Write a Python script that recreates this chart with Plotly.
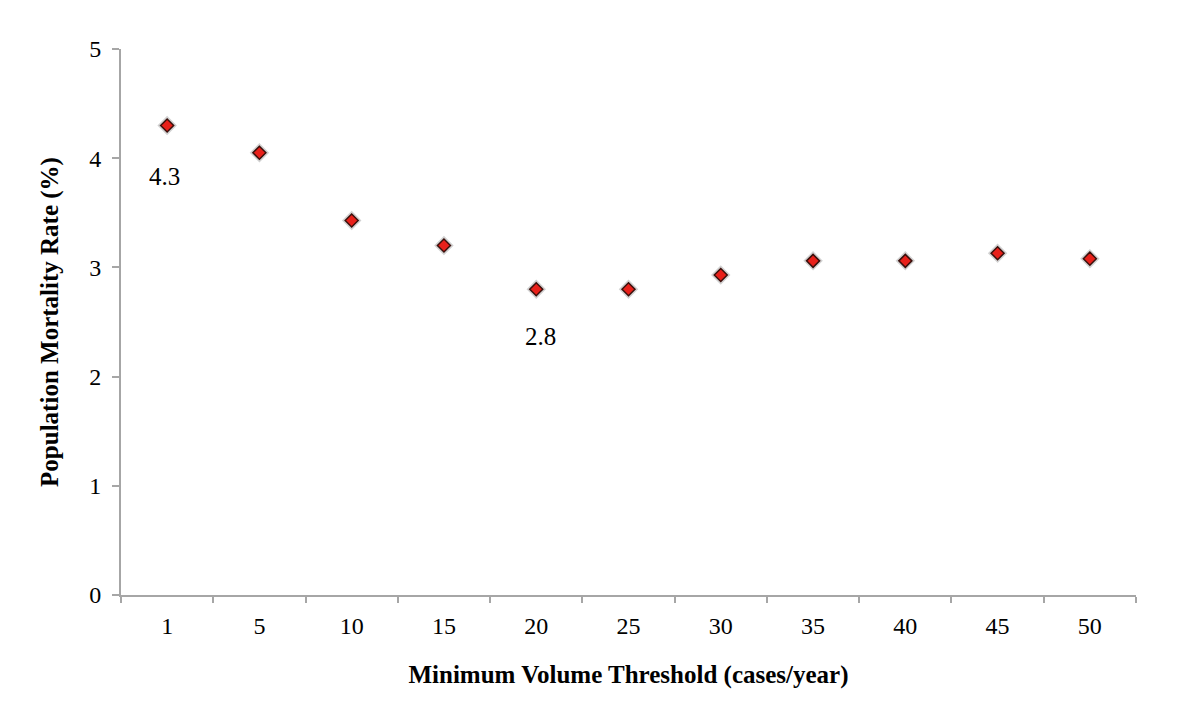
import plotly.graph_objects as go

thresholds = ["1", "5", "10", "15", "20", "25", "30", "35", "40", "45", "50"]
mortality = [4.30, 4.05, 3.43, 3.20, 2.80, 2.80, 2.93, 3.06, 3.06, 3.13, 3.08]
y_ticks = [0, 1, 2, 3, 4, 5]
labelled = {0: "4.3", 4: "2.8"}

font_family = "Liberation Serif, Times New Roman, serif"
axis_grey = "#a6a6a6"

fig = go.Figure()
# soft shadow behind markers
fig.add_trace(go.Scatter(
    x=thresholds, y=mortality, mode="markers",
    marker=dict(symbol="diamond", size=15, color="rgba(0,0,0,0.18)", line=dict(width=0)),
    hoverinfo="skip", showlegend=False,
))
fig.add_trace(go.Scatter(
    x=thresholds, y=mortality, mode="markers",
    marker=dict(symbol="diamond", size=10, color="#e8201a",
                line=dict(color="#3a100c", width=1.5)),
    showlegend=False,
))

shifts = {0: (-3, -51), 4: (4, -47)}
for idx, txt in labelled.items():
    fig.add_annotation(x=idx, y=mortality[idx], text=txt, showarrow=False,
                       xshift=shifts[idx][0], yshift=shifts[idx][1],
                       font=dict(family=font_family, size=25, color="black"))

fig.update_layout(
    width=1180, height=716,
    margin=dict(l=113, r=52, t=41, b=129),
    paper_bgcolor="white", plot_bgcolor="white",
    font=dict(family=font_family, color="black"),
    xaxis=dict(
        type="category", categoryorder="array", categoryarray=thresholds,
        range=[-0.5, len(thresholds) - 0.5], automargin=False,
        showline=True, linecolor=axis_grey, linewidth=2,
        ticks="outside", tickson="boundaries", ticklen=6, tickcolor=axis_grey, tickwidth=2,
        ticklabelstandoff=8,
        showgrid=False, zeroline=False,
        tickfont=dict(family=font_family, size=24, color="black"),
        title=dict(text="<b>Minimum Volume Threshold (cases/year)</b>",
                   font=dict(family=font_family, size=25, color="black"), standoff=28),
    ),
    yaxis=dict(
        range=[0, 5], tickvals=y_ticks, automargin=False,
        showline=True, linecolor=axis_grey, linewidth=2,
        ticks="outside", ticklen=7, tickcolor=axis_grey, tickwidth=2,
        ticklabelstandoff=6,
        showgrid=False, zeroline=False,
        tickfont=dict(family=font_family, size=24, color="black"),
        title=dict(text="<b>Population Mortality Rate (%)</b>",
                   font=dict(family=font_family, size=25, color="black"), standoff=23),
    ),
)

fig.write_html("out.html")
